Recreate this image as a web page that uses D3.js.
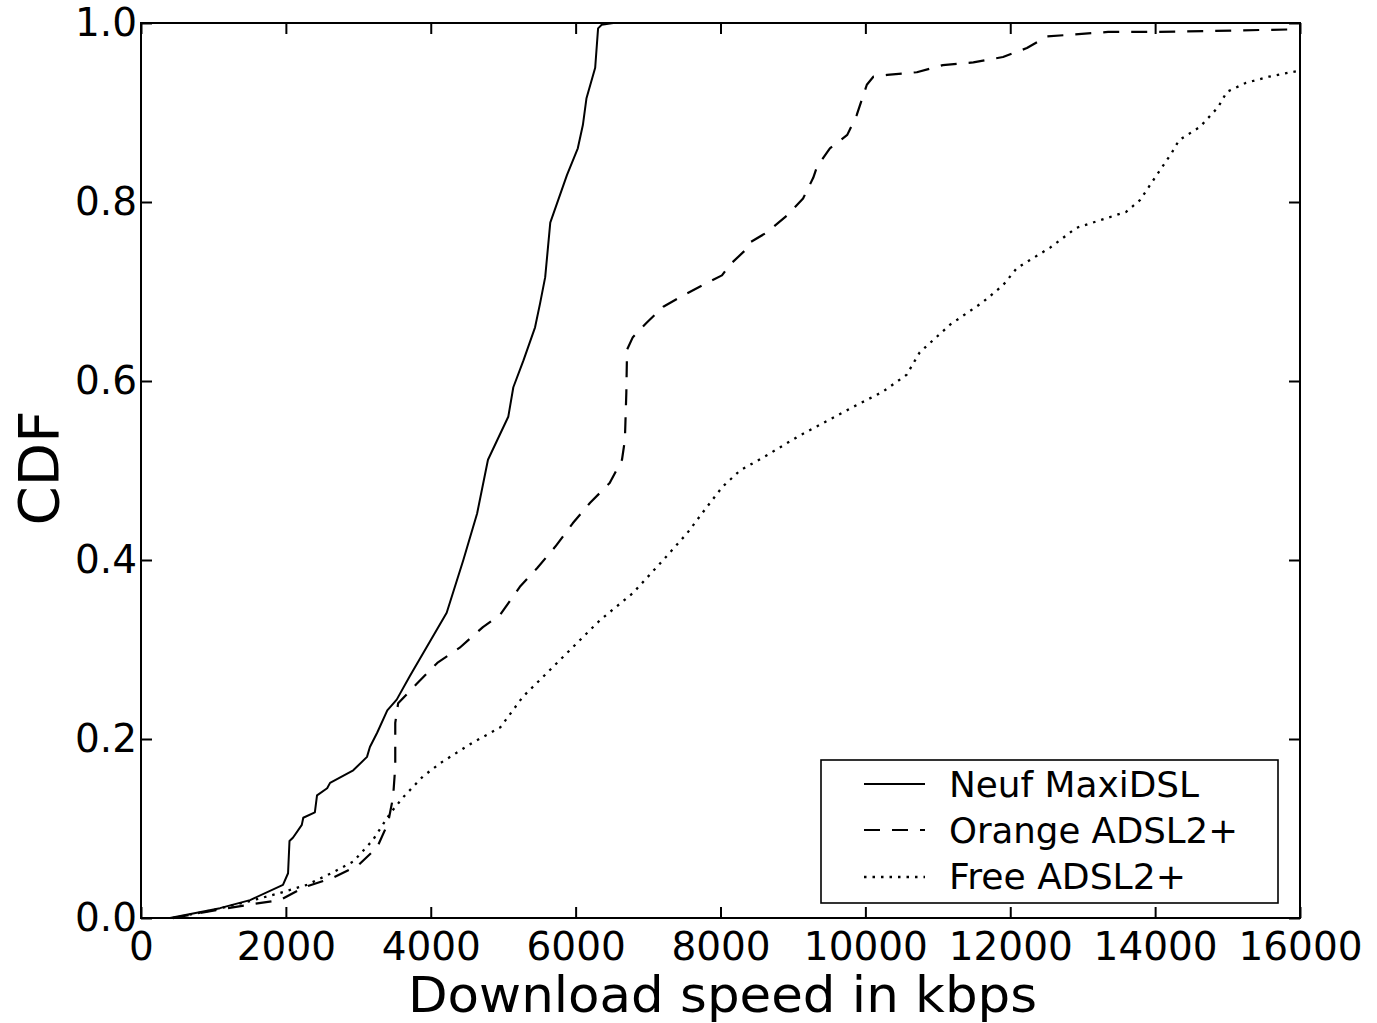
<!DOCTYPE html>
<html>
<head>
<meta charset="utf-8">
<script src="https://cdn.jsdelivr.net/npm/d3@7"></script>
<style>
  html, body { margin: 0; padding: 0; background: #fff; }
  svg { display: block; font-family: "DejaVu Sans", Verdana, sans-serif; }
</style>
</head>
<body>
<svg id="chart" width="1377" height="1023"></svg>
<script>
// ---------- data ----------
const seriesNames = ["Neuf MaxiDSL", "Orange ADSL2+", "Free ADSL2+"];

const neufSpeed = [400, 1090, 1505, 1960, 2030, 2050, 2100, 2220, 2240, 2400, 2430, 2570, 2610, 2930, 3120, 3160, 3260, 3400, 3530, 3710, 3760, 4220, 4450, 4640, 4790, 5070, 5140, 5280, 5440, 5510, 5580, 5650, 5880, 6030, 6100, 6150, 6270, 6310, 6360, 6520, 6600];
const neufCdf   = [0, 0.011, 0.02, 0.037, 0.05, 0.086, 0.09, 0.104, 0.112, 0.118, 0.137, 0.145, 0.151, 0.165, 0.18, 0.191, 0.207, 0.232, 0.244, 0.27, 0.277, 0.341, 0.4, 0.452, 0.512, 0.56, 0.593, 0.623, 0.66, 0.687, 0.716, 0.777, 0.83, 0.86, 0.886, 0.916, 0.95, 0.994, 0.998, 1.0, 1.0];

const orangeSpeed = [440, 1050, 1500, 1920, 2240, 2650, 3000, 3260, 3410, 3480, 3510, 3510, 3550, 3810, 4090, 4400, 4720, 4960, 5230, 5470, 5720, 5960, 6200, 6470, 6640, 6680, 6700, 6710, 6790, 6980, 7210, 7540, 7850, 8020, 8130, 8380, 8410, 8640, 8920, 9140, 9280, 9330, 9510, 9750, 9880, 10020, 10110, 10300, 10710, 11070, 11490, 11900, 12230, 12510, 13350, 13980, 16000];
const orangeCdf   = [0, 0.009, 0.015, 0.02, 0.034, 0.045, 0.059, 0.079, 0.106, 0.135, 0.169, 0.218, 0.24, 0.262, 0.285, 0.302, 0.325, 0.339, 0.37, 0.391, 0.415, 0.441, 0.464, 0.486, 0.512, 0.534, 0.587, 0.635, 0.649, 0.665, 0.683, 0.698, 0.711, 0.718, 0.73, 0.749, 0.755, 0.766, 0.785, 0.804, 0.827, 0.839, 0.86, 0.875, 0.897, 0.931, 0.94, 0.942, 0.945, 0.953, 0.956, 0.962, 0.972, 0.985, 0.99, 0.99, 0.993];

const freeSpeed = [440, 1000, 1460, 1920, 2290, 2650, 2930, 3200, 3440, 3620, 3890, 4130, 4580, 4960, 5270, 5880, 6340, 6790, 7210, 7540, 7810, 8030, 8270, 8640, 9070, 9830, 10240, 10570, 10750, 11170, 11620, 11900, 12090, 12550, 12910, 13600, 13790, 13980, 14230, 14330, 14620, 14870, 14990, 15250, 15570, 16000];
const freeCdf   = [0, 0.009, 0.018, 0.028, 0.037, 0.051, 0.063, 0.087, 0.117, 0.135, 0.158, 0.173, 0.196, 0.213, 0.247, 0.296, 0.333, 0.363, 0.4, 0.43, 0.459, 0.482, 0.5, 0.517, 0.538, 0.571, 0.588, 0.607, 0.632, 0.663, 0.688, 0.707, 0.726, 0.749, 0.771, 0.789, 0.802, 0.825, 0.855, 0.869, 0.884, 0.906, 0.923, 0.933, 0.94, 0.947];

const xTicks = [0, 2000, 4000, 6000, 8000, 10000, 12000, 14000, 16000];
const yTicks = [0.0, 0.2, 0.4, 0.6, 0.8, 1.0];
const xLabel = "Download speed in kbps";
const yLabel = "CDF";

// ---------- layout ----------
const plotL = 141, plotR = 1300, plotT = 23, plotB = 918;
const svg = d3.select("#chart");

const x = d3.scaleLinear().domain([0, 16000]).range([plotL, plotR]);
const y = d3.scaleLinear().domain([0, 1]).range([plotB, plotT]);

const styles = [
  { dash: null, width: 2 },
  { dash: "16,12", width: 2.2 },
  { dash: "2.5,6", width: 2.3 }
];

const series = [
  neufSpeed.map((v, i) => [v, neufCdf[i]]),
  orangeSpeed.map((v, i) => [v, orangeCdf[i]]),
  freeSpeed.map((v, i) => [v, freeCdf[i]])
];

// clip
svg.append("defs").append("clipPath").attr("id", "plotclip")
  .append("rect").attr("x", plotL).attr("y", plotT - 2)
  .attr("width", plotR - plotL).attr("height", plotB - plotT + 4);

// lines
const line = d3.line().x(d => x(d[0])).y(d => y(d[1]));
const gLines = svg.append("g").attr("clip-path", "url(#plotclip)");
series.forEach((s, i) => {
  gLines.append("path")
    .attr("d", line(s))
    .attr("fill", "none")
    .attr("stroke", "#000")
    .attr("stroke-width", styles[i].width)
    .attr("stroke-dasharray", styles[i].dash)
    .attr("stroke-linejoin", "round");
});

// axes with inward ticks
const tickLen = 11;
const fontTick = 39;

const xAxis = d3.axisBottom(x).tickValues(xTicks).tickFormat(d3.format("d"))
  .tickSizeInner(-tickLen).tickSizeOuter(0).tickPadding(14);
const gx = svg.append("g").attr("transform", `translate(0,${plotB})`).call(xAxis);
gx.select(".domain").remove();
gx.selectAll("line").attr("stroke", "#000").attr("stroke-width", 2);
gx.selectAll("text").attr("font-size", fontTick).attr("fill", "#000")
  .attr("font-family", "DejaVu Sans");

const yAxis = d3.axisLeft(y).tickValues(yTicks).tickFormat(d3.format(".1f"))
  .tickSizeInner(-tickLen).tickSizeOuter(0).tickPadding(4);
const gy = svg.append("g").attr("transform", `translate(${plotL},0)`).call(yAxis);
gy.select(".domain").remove();
gy.selectAll("line").attr("stroke", "#000").attr("stroke-width", 2);
gy.selectAll("text").attr("font-size", fontTick).attr("fill", "#000")
  .attr("font-family", "DejaVu Sans");

const xTop = d3.axisTop(x).tickValues(xTicks).tickFormat("").tickSizeInner(-tickLen).tickSizeOuter(0);
const gxt = svg.append("g").attr("transform", `translate(0,${plotT})`).call(xTop);
gxt.select(".domain").remove();
gxt.selectAll("line").attr("stroke", "#000").attr("stroke-width", 2);

const yRight = d3.axisRight(y).tickValues(yTicks).tickFormat("").tickSizeInner(-tickLen).tickSizeOuter(0);
const gyr = svg.append("g").attr("transform", `translate(${plotR},0)`).call(yRight);
gyr.select(".domain").remove();
gyr.selectAll("line").attr("stroke", "#000").attr("stroke-width", 2);

// frame
svg.append("rect").attr("x", plotL).attr("y", plotT)
  .attr("width", plotR - plotL).attr("height", plotB - plotT)
  .attr("fill", "none").attr("stroke", "#000").attr("stroke-width", 2);

// axis labels
svg.append("text").attr("x", (plotL + plotR) / 2 + 2).attr("y", 1012)
  .attr("text-anchor", "middle").attr("font-size", 50)
  .attr("textLength", 629).attr("lengthAdjust", "spacingAndGlyphs")
  .attr("fill", "#000").text(xLabel);

svg.append("text")
  .attr("transform", `translate(58,468) rotate(-90)`)
  .attr("text-anchor", "middle").attr("font-size", 55)
  .attr("textLength", 115).attr("lengthAdjust", "spacingAndGlyphs")
  .attr("fill", "#000").text(yLabel);

// legend
const lg = svg.append("g");
lg.append("rect").attr("x", 821).attr("y", 760).attr("width", 457).attr("height", 143)
  .attr("fill", "#fff").attr("stroke", "#000").attr("stroke-width", 1.6);
const rowLineY = [784, 830, 877];
const rowBase = [797, 843, 889];
const textLens = [250, 289, 237];
seriesNames.forEach((name, i) => {
  lg.append("line").attr("x1", 864).attr("x2", 925)
    .attr("y1", rowLineY[i]).attr("y2", rowLineY[i])
    .attr("stroke", "#000").attr("stroke-width", styles[i].width)
    .attr("stroke-dasharray", styles[i].dash);
  lg.append("text").attr("x", 949).attr("y", rowBase[i])
    .attr("font-size", 35).attr("fill", "#000")
    .attr("textLength", textLens[i]).attr("lengthAdjust", "spacingAndGlyphs")
    .text(name);
});
</script>
</body>
</html>
